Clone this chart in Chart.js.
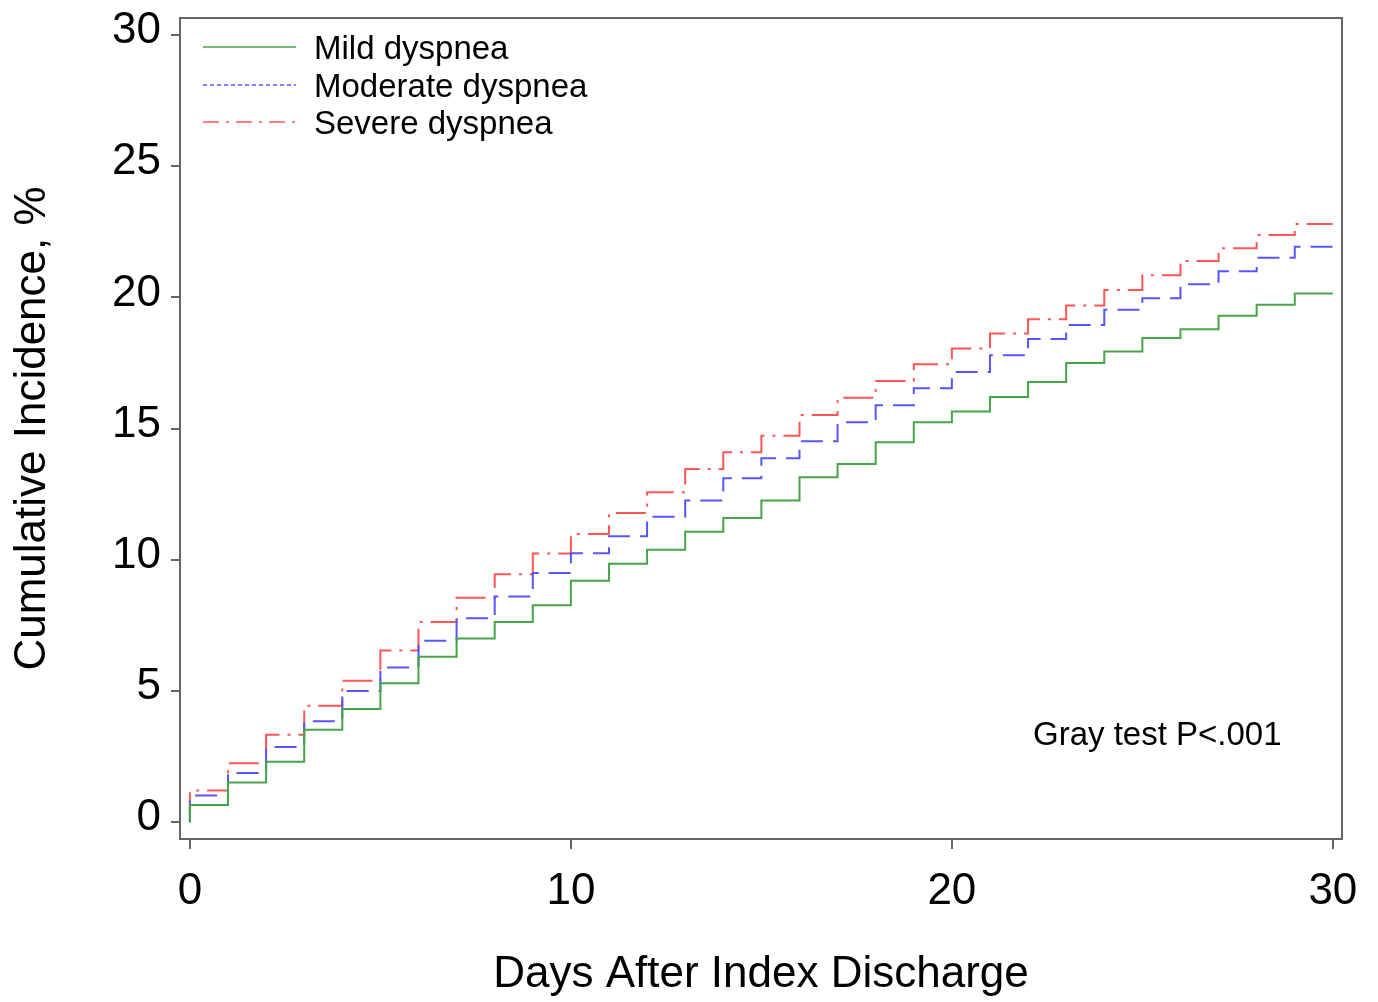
<!DOCTYPE html>
<html>
<head>
<meta charset="utf-8">
<script src="https://cdn.jsdelivr.net/npm/chart.js@4"></script>
<style>
html,body{margin:0;padding:0;background:#fff;}
#wrap{width:1378px;height:1002px;position:relative;}
</style>
</head>
<body>
<div id="wrap"><canvas id="c" width="1378" height="1002"></canvas></div>
<script>
// Days after index discharge (start of each step interval)
const days = [0,1,2,3,4,5,6,7,8,9,10,11,12,13,14,15,16,17,18,19,20,21,22,23,24,25,26,27,28,29];
const xTicks = [0,10,20,30];
const yTicks = [0,5,10,15,20,25,30];
const seriesLabels = ['Mild dyspnea','Moderate dyspnea','Severe dyspnea'];
// Cumulative incidence (%) holding on [day, day+1)
const mild = [0.66,1.51,2.30,3.52,4.31,5.30,6.31,7.00,7.63,8.27,
              9.20,9.85,10.38,11.07,11.59,12.26,13.15,13.65,14.48,15.24,
              15.65,16.21,16.78,17.50,17.94,18.45,18.79,19.30,19.72,20.15];
const moderate = [1.02,1.88,2.87,3.85,5.00,5.90,6.92,7.77,8.60,9.50,
              10.25,10.90,11.64,12.26,13.11,13.87,14.52,15.24,15.89,16.54,
              17.16,17.80,18.42,18.95,19.53,19.97,20.50,21.00,21.51,21.93];
const severe = [1.21,2.25,3.33,4.44,5.39,6.54,7.63,8.55,9.45,10.24,
              10.98,11.78,12.58,13.46,14.10,14.73,15.52,16.18,16.82,17.45,
              18.05,18.63,19.17,19.69,20.28,20.85,21.39,21.87,22.38,22.80];
const endDay = 30;
const annotationText = 'Gray test P<.001';

const FONT = "'Liberation Sans', Arial, Helvetica, sans-serif";

function stepData(vals){
  const pts = [{x:days[0], y:0}];
  vals.forEach((v,i)=>pts.push({x:days[i], y:v}));
  pts.push({x:endDay, y:vals[vals.length-1]});
  return pts;
}

const styles = [
  {color:'rgb(70,165,70)', dash:[], legendDash:[]},
  {color:'rgb(85,85,255)', dash:[22,10], legendDash:[4,3]},
  {color:'rgb(255,85,85)', dash:[30,8,3,8], legendDash:[16,7,3,7]}
];

const boxPlugin = {
  id:'boxPlugin',
  afterDraw(chart){
    const {ctx, chartArea:a} = chart;
    ctx.save();
    ctx.strokeStyle = '#666';
    ctx.lineWidth = 2;
    ctx.strokeRect(a.left, a.top, a.right - a.left, a.bottom - a.top);
    // legend
    const ys = [47,85,122];
    chart.data.datasets.forEach((ds,i)=>{
      ctx.beginPath();
      ctx.setLineDash(styles[i].legendDash);
      ctx.strokeStyle = ds.borderColor;
      ctx.lineWidth = 1.6;
      ctx.moveTo(203, ys[i]); ctx.lineTo(296, ys[i]);
      ctx.stroke();
      ctx.setLineDash([]);
      ctx.fillStyle = '#000';
      ctx.font = '33px ' + FONT;
      ctx.textBaseline = 'middle';
      ctx.textAlign = 'left';
      ctx.fillText(ds.label, 314, ys[i] + 3);
    });
    ctx.font = '33px ' + FONT;
    ctx.fillStyle = '#000';
    ctx.textBaseline = 'middle';
    ctx.fillText(annotationText, 1033, 736);
    ctx.restore();
  }
};

new Chart(document.getElementById('c'), {
  type:'line',
  data:{
    datasets:[mild, moderate, severe].map((vals,i)=>({
      label: seriesLabels[i],
      data: stepData(vals),
      borderColor: styles[i].color,
      borderDash: styles[i].dash,
      borderWidth: 2,
      pointRadius: 0,
      stepped: 'before',
      fill:false,
      tension:0
    }))
  },
  options:{
    responsive:false,
    animation:false,
    devicePixelRatio:1,
    layout:{padding:{left:0, top:18, right:36, bottom:0}},
    plugins:{legend:{display:false}, tooltip:{enabled:false}},
    scales:{
      x:{
        type:'linear',
        min:-0.26, max:30.24,
        afterBuildTicks(s){ s.ticks = xTicks.map(v=>({value:v})); },
        afterFit(s){ s.height = 163; s.paddingLeft = 0; s.paddingRight = 0; },
        grid:{drawOnChartArea:false, drawTicks:true, tickLength:10, color:'#666', lineWidth:2},
        border:{display:true, color:'#666', width:2},
        ticks:{font:{size:44, family:FONT}, color:'#000', padding:16, maxRotation:0},
        title:{display:true, text:'Days After Index Discharge', font:{size:44, family:FONT}, color:'#000', padding:{top:0,bottom:1}}
      },
      y:{
        type:'linear',
        min:-0.64, max:30.65,
        afterBuildTicks(s){ s.ticks = yTicks.map(v=>({value:v})); },
        afterFit(s){ s.width = 180; s.paddingTop = 0; s.paddingBottom = 0; },
        grid:{drawOnChartArea:false, drawTicks:true, tickLength:9, color:'#666', lineWidth:2},
        border:{display:true, color:'#666', width:2},
        ticks:{font:{size:44, family:FONT}, color:'#000', padding:10, labelOffset:-4},
        title:{display:true, text:'Cumulative Incidence, %', font:{size:44, family:FONT}, color:'#000', padding:{top:6,bottom:0}}
      }
    }
  },
  plugins:[boxPlugin]
});
</script>
</body>
</html>
